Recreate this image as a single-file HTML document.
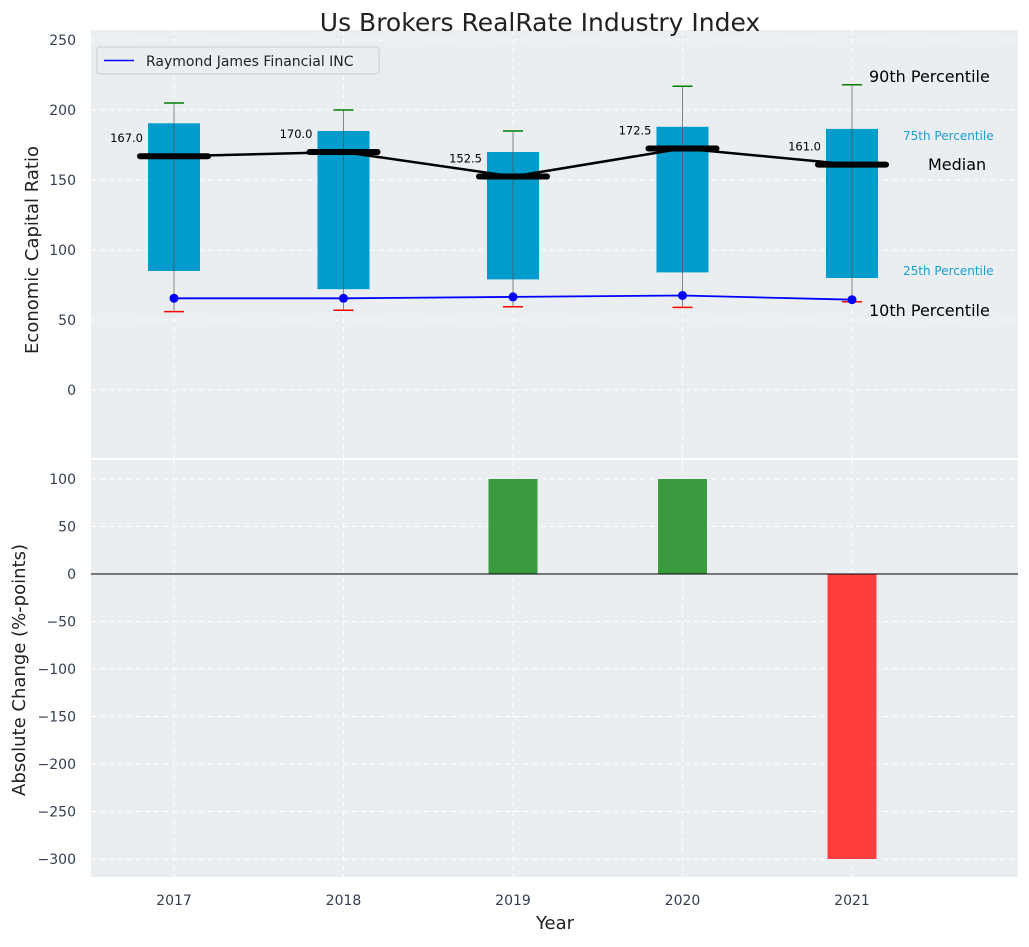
<!DOCTYPE html>
<html><head><meta charset="utf-8"><style>
body{margin:0;background:#fff;font-family:"Liberation Sans","DejaVu Sans",sans-serif}
svg text{font-family:"DejaVu Sans","Liberation Sans",sans-serif}
</style></head><body>
<svg id="c" width="1029" height="942" xmlns="http://www.w3.org/2000/svg"></svg>
<script>
const years=[2017,2018,2019,2020,2021];
const p10=[56,57,59.5,59,63];
const p25=[85,72,79,84,80];
const p50=[167,170,152.5,172.5,161];
const p75=[190.5,185,170,188,186.5];
const p90=[205,200,185,217,218];
const company=[65.5,65.5,66.5,67.5,64.5];
const changes=[0,0,100,100,-300];
const topTicks=[0,50,100,150,200,250];
const botTicks=[100,50,0,-50,-100,-150,-200,-250,-300];

const svg=document.getElementById('c');const NS='http://www.w3.org/2000/svg';
function el(t,a,p){const e=document.createElementNS(NS,t);for(const k in a)e.setAttribute(k,a[k]);(p||svg).appendChild(e);return e;}
const L=91,R=1018;
const x=v=>174+(v-2017)*169.5;
const yT=v=>390-v*1.4;
const yB=v=>574-v*0.95;
let bg=el('rect',{x:L,y:30,width:R-L,height:428,fill:'#eaeef0'});

bg=el('rect',{x:L,y:460,width:R-L,height:417,fill:'#eaeef0'});

topTicks.forEach(t=>{
 el('line',{x1:L,x2:R,y1:yT(t),y2:yT(t),stroke:'#fff','stroke-dasharray':'5,4','stroke-width':1});
 const tx=el('text',{x:76,y:yT(t)+5,'text-anchor':'end','font-size':14,fill:'#333f50'});tx.textContent=t;
 
});
botTicks.forEach(t=>{
 el('line',{x1:L,x2:R,y1:yB(t),y2:yB(t),stroke:'#fff','stroke-dasharray':'5,4','stroke-width':1});
 const tx=el('text',{x:76,y:yB(t)+5,'text-anchor':'end','font-size':14,fill:'#333f50'});tx.textContent=t.toString().replace('-','−');
 
});
years.forEach(yr=>{
 el('line',{x1:x(yr),x2:x(yr),y1:30,y2:458,stroke:'#fff','stroke-dasharray':'5,4'});
 el('line',{x1:x(yr),x2:x(yr),y1:460,y2:877,stroke:'#fff','stroke-dasharray':'5,4'});
 const tx=el('text',{x:x(yr),y:905,'text-anchor':'middle','font-size':14,fill:'#333f50'});tx.textContent=yr;
 
});
years.forEach((yr,i)=>{
 const cx=x(yr);
 const b=el('rect',{x:cx-26,y:yT(p75[i]),width:52,height:yT(p25[i])-yT(p75[i]),fill:'#009ccc'});
 
 el('line',{x1:cx,x2:cx,y1:yT(p90[i]),y2:yT(p10[i]),stroke:'#555','stroke-width':1,opacity:0.7});
 el('line',{x1:cx-10,x2:cx+10,y1:yT(p90[i]),y2:yT(p90[i]),stroke:'green','stroke-width':1.5});
 el('line',{x1:cx-10,x2:cx+10,y1:yT(p10[i]),y2:yT(p10[i]),stroke:'red','stroke-width':1.5});
});
el('polyline',{points:years.map((yr,i)=>x(yr)+','+yT(p50[i])).join(' '),fill:'none',stroke:'#000','stroke-width':2.5});
years.forEach((yr,i)=>{
 const m=el('line',{x1:x(yr)-34,x2:x(yr)+34,y1:yT(p50[i]),y2:yT(p50[i]),stroke:'#000','stroke-width':6,'stroke-linecap':'round'});
 
 const t=el('text',{x:x(yr)-31,y:yT(p50[i])-14,'text-anchor':'end','font-size':11.5,fill:'#000'});t.textContent=p50[i].toFixed(1);
 
});
el('polyline',{points:years.map((yr,i)=>x(yr)+','+yT(company[i])).join(' '),fill:'none',stroke:'blue','stroke-width':1.8});
years.forEach((yr,i)=>{const c=el('circle',{cx:x(yr),cy:yT(company[i]),r:4.5,fill:'blue'});
 });
[['90th Percentile',869,82,16,'#000'],['75th Percentile',903,140,12,'#1a9fd0'],['Median',928,170,16,'#000'],['25th Percentile',903,275,12,'#1a9fd0'],['10th Percentile',869,316,16,'#000']].forEach(a=>{
 const t=el('text',{x:a[1],y:a[2],'font-size':a[3],fill:a[4]});t.textContent=a[0];
 
});
years.forEach((yr,i)=>{
 const v=changes[i];if(!v)return;
 const b=el('rect',{x:x(yr)-24.5,y:Math.min(yB(v),yB(0)),width:49,height:Math.abs(yB(v)-yB(0)),fill:v>0?'#3a9b3e':'#ff3e3e'});
 
});
el('line',{x1:L,x2:R,y1:yB(0),y2:yB(0),stroke:'#000','stroke-width':1});
const lg=el('g',{});
el('rect',{x:97,y:47,width:282,height:27,rx:3,fill:'#eaeef0',stroke:'#ccc'},lg);
el('line',{x1:104,x2:134,y1:60.5,y2:60.5,stroke:'blue','stroke-width':1.5},lg);
let t=el('text',{x:146,y:66,'font-size':14,fill:'#222'},lg);t.textContent='Raymond James Financial INC';
t=el('text',{x:540,y:31,'text-anchor':'middle','font-size':25,fill:'#222'});t.textContent='Us Brokers RealRate Industry Index';

t=el('text',{x:555,y:929,'text-anchor':'middle','font-size':18,fill:'#222'});t.textContent='Year';

t=el('text',{x:0,y:0,'text-anchor':'middle','font-size':18,fill:'#222',transform:'translate(38,250) rotate(-90)'});t.textContent='Economic Capital Ratio';

t=el('text',{x:0,y:0,'text-anchor':'middle','font-size':18,fill:'#222',transform:'translate(25,670) rotate(-90)'});t.textContent='Absolute Change (%-points)';

</script></body></html>
